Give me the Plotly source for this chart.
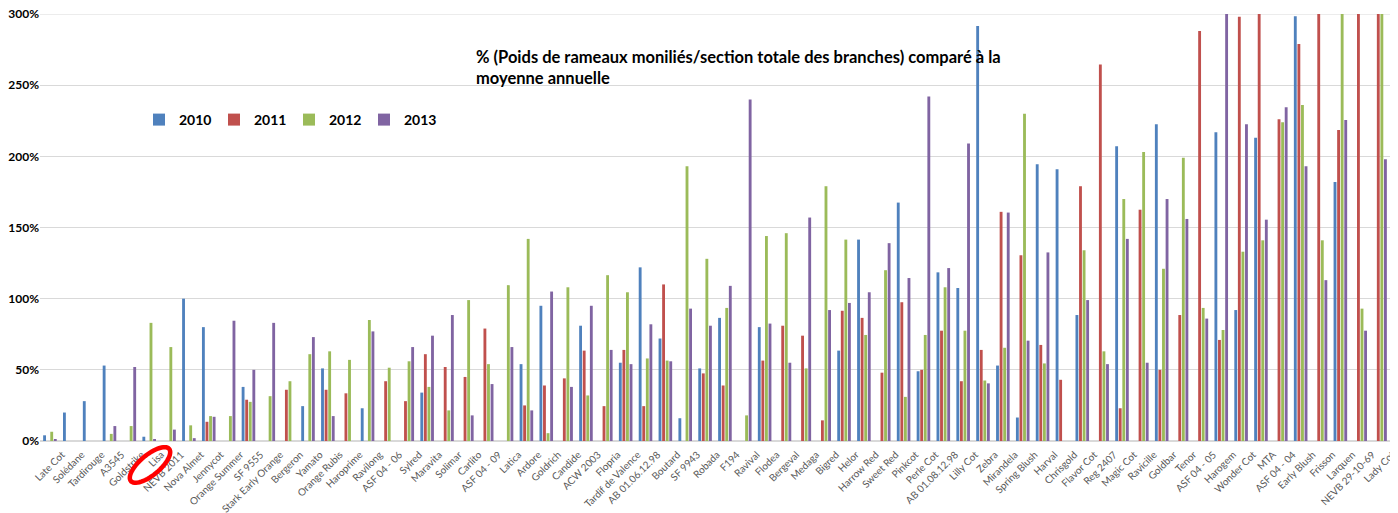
import numpy as np
import plotly.graph_objects as go

categories = ["Late Cot", "Solédane", "Tardirouge", "A3545", "Goldstrike", "Lisa", "NEVB 2011",
              "Nova Almet", "Jennycot", "Orange Summer", "SF 9555", "Stark Early Orange", "Bergeron",
              "Yamato", "Orange Rubis", "Haroprime", "Ravilong", "ASF 04 - 06", "Sylred", "Maravita",
              "Solimar", "Carlito", "ASF 04 - 09", "Latica", "Ardore", "Goldrich", "Candide",
              "ACW 2003", "Flopria", "Tardif de Valence", "AB 01.06.12.98", "Boutard", "SF 9943",
              "Robada", "F194", "Ravival", "Flodea", "Bergeval", "Medaga", "Bigred", "Helor",
              "Harrow Red", "Sweet Red", "Pinkcot", "Perle Cot", "AB 01.08.12.98", "Lilly Cot",
              "Zebra", "Mirandela", "Spring Blush", "Harval", "Chrisgold", "Flavor Cot", "Reg 2407",
              "Magic Cot", "Ravicille", "Goldbar", "Tenor", "ASF 04 - 05", "Harogem", "Wonder Cot",
              "MTA", "ASF 04 - 04", "Early Blush", "Frisson", "Larquen", "NEVB 29-10-69", "Lady Cot"]

v2010 = [4, 20, 28, 53, 0, 3, 0, 100, 80, 0, 38, 0, 0, 24.5, 51, 0, 23, 0, 0, 34,
         0, 0, 0, 0, 54, 95, 0, 81, 0, 55, 122, 72, 16, 51, 86.5, 0, 80, 0, 0, 0,
         63.5, 141.5, 0, 167.5, 49, 118.5, 107.5, 291.5, 53, 16.5, 194.5, 191, 88.5, 0,
         207, 0, 222.5, 0, 0, 217, 92, 213, 0, 298.5, 0, 182, 0, 0]
v2011 = [0, 0, 0, 0, 0, 0, 0, 0, 13.5, 0, 29, 0, 36, 0, 36, 33.5, 0, 42, 28, 61,
         52, 45, 79, 0, 25, 39, 44, 63.5, 24.5, 64, 24.5, 110, 0, 47.5, 39, 0, 56.5, 81, 74, 14.5,
         91.5, 86.5, 48, 97.5, 50, 77.5, 42, 64, 161, 130.5, 67.5, 43, 179, 264.5,
         23, 162.5, 50, 88.5, 288, 71, 298, 320, 226, 279, 320, 218.5, 320, 320]
v2012 = [6.5, 0, 0, 5, 10.5, 83, 66, 11, 17.5, 17.5, 27.5, 31.5, 42, 61, 63, 57, 85, 51.5, 56, 38,
         21.5, 99, 54, 109.5, 142, 5.5, 108, 32, 116.5, 104.5, 58, 56.5, 193, 128, 93.5, 18, 144, 146, 51, 179,
         141.5, 74.5, 120, 31, 74.5, 108, 77.5, 42.5, 65.5, 230, 54.5, 0, 134, 63,
         170, 203, 121, 199, 93.5, 78, 133, 141, 224, 236, 141, 320, 93, 320]
v2013 = [1, 0, 0, 10.5, 52, 1, 8, 2, 17, 84.5, 50, 83, 0, 73, 17.5, 0, 77, 0, 66, 74,
         88.5, 18, 40, 66, 21.5, 105, 38, 95, 64, 54, 82, 56, 93, 81, 109, 240, 82.5, 55, 157, 92,
         97, 104.5, 139, 114.5, 242, 121.5, 209, 40.5, 160.5, 70.5, 132.5, 0, 99, 54,
         142, 55, 170, 156, 86, 320, 222.5, 155.5, 234.5, 193, 113, 225.5, 77.5, 198]

series_names = ["2010", "2011", "2012", "2013"]
series_values = [v2010, v2011, v2012, v2013]
colors = ["#4F81BD", "#C0504D", "#9BBB59", "#8064A2"]

# page has an 8px body margin: size the figure so the plot lands where the reference has it
OFF = 8
W, H = 1398 - OFF, 513 - OFF
ML, MR, MT, MB = 40 - OFF, 8, 14 - OFF, 72
PW, PH = W - ML - MR, H - MT - MB

fig = go.Figure()
for name, vals, col in zip(series_names, series_values, colors):
    fig.add_trace(go.Bar(x=categories, y=vals, name=name, marker=dict(color=col, line=dict(width=0))))

def px2paper(px, py):
    # px, py in page pixels of the reference
    return (px - OFF - ML) / PW, (MT + PH - (py - OFF)) / PH

# red ellipse drawn around "Lisa"
cx, cy, a, b, ang = 150, 465, 25, 10, np.deg2rad(-40)
t = np.linspace(0, 2 * np.pi, 60)
ex = cx + a * np.cos(t) * np.cos(ang) - b * np.sin(t) * np.sin(ang)
ey = cy + a * np.cos(t) * np.sin(ang) + b * np.sin(t) * np.cos(ang)
pts = [px2paper(x, y) for x, y in zip(ex, ey)]
path = "M" + " L".join(f"{x:.5f},{y:.5f}" for x, y in pts) + " Z"

lx, ly = px2paper(139, 120)
tx, ty = px2paper(474, 45)

fig.update_layout(
    width=W, height=H,
    margin=dict(l=ML, r=MR, t=MT, b=MB),
    paper_bgcolor="white", plot_bgcolor="white",
    barmode="group", bargap=0.28, bargroupgap=0.2,
    font=dict(family="Lato, Noto Sans, sans-serif", color="black"),
    showlegend=True,
    legend=dict(orientation="h", x=lx, y=ly, xanchor="left", yanchor="middle",
                font=dict(size=14, color="black", weight="bold"),
                entrywidth=30, entrywidthmode="pixels", bgcolor="rgba(0,0,0,0)"),
    xaxis=dict(tickangle=-45, tickfont=dict(size=10, color="#595959"), showgrid=False,
               showline=False, ticks="", automargin=False, ticklabelshift=12,
               ticklabelstandoff=5),
    yaxis=dict(range=[0, 300], dtick=50, ticksuffix="%", showgrid=True, gridcolor="#D9D9D9",
               gridwidth=1, zeroline=True, zerolinecolor="#D9D9D9", showline=False,
               tickfont=dict(size=12, color="black", weight="bold"), automargin=False, ticks="",
               ticklabeloverflow="allow"),
    annotations=[dict(xref="paper", yref="paper", x=tx, y=ty,
                      xanchor="left", yanchor="top", align="left", showarrow=False,
                      text="% (Poids de rameaux moniliés/section totale des branches) comparé à la<br>moyenne annuelle",
                      font=dict(size=16.5, color="black", weight="bold"))],
    shapes=[dict(type="line", xref="paper", yref="y", x0=0, x1=1, y0=300, y1=300,
                 line=dict(color="#D9D9D9", width=1), layer="below"),
            dict(type="path", xref="paper", yref="paper", path=path,
                 line=dict(color="#FF0000", width=4.5), fillcolor="rgba(0,0,0,0)", layer="above")],
)

fig.write_html("out.html")
